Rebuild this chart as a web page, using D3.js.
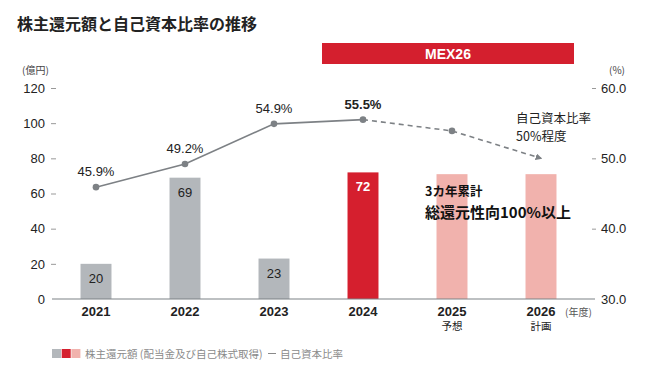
<!DOCTYPE html>
<html><head><meta charset="utf-8">
<script src="https://cdn.jsdelivr.net/npm/d3@7"></script>
<style>
html,body{margin:0;padding:0;background:#fff;}
svg{display:block;font-family:"Noto Sans CJK JP","Liberation Sans",Arial,sans-serif;}
</style></head>
<body>
<svg id="chart" width="650" height="380"></svg>
<script>
const years = ["2021","2022","2023","2024","2025","2026"];
const yearSub = ["","","","","予想","計画"];
const returns = [20, 69, 23, 72, 71, 71];
const returnLabels = ["20","69","23","72","",""];
const barKinds = ["actual","actual","actual","current","plan","plan"];
const equityRatio = [45.9, 49.2, 54.9, 55.5, 53.9, 50.0];
const ratioLabels = ["45.9%","49.2%","54.9%","55.5%","",""];
const leftTicks = [0, 20, 40, 60, 80, 100, 120];
const rightTicks = [30, 40, 50, 60];

const colors = {actual:"#b3b7bb", current:"#d51f2e", plan:"#f1b2ad"};
const lineColor = "#7d8185";
const svg = d3.select("#chart");
const fontJP = '"Noto Sans CJK JP", sans-serif';
const fontNum = '"Liberation Sans", Arial, sans-serif';

const x = d3.scaleBand().domain(years).range([51.5, 585.5]).paddingInner(0.652).paddingOuter(0.326);
const y = d3.scaleLinear().domain([0, 120]).range([299, 88]);
const y2 = d3.scaleLinear().domain([30, 60]).range([299, 88]);
const cx = d => x(d) + x.bandwidth()/2;

// title
svg.append("text").attr("x", 17).attr("y", 30).attr("font-family", fontJP)
  .attr("font-size", 16).attr("font-weight", "bold").attr("fill", "#222")
  .text("株主還元額と自己資本比率の推移");

// MEX26 banner
const bx0 = cx("2024") - x.bandwidth()/2 - 26, bx1 = 574;
svg.append("rect").attr("x", 322).attr("y", 43).attr("width", bx1 - 322).attr("height", 21).attr("fill", "#d41f2e");
svg.append("text").attr("x", (322 + bx1)/2).attr("y", 58.5).attr("text-anchor", "middle")
  .attr("font-family", fontNum).attr("font-weight", "bold").attr("font-size", 14).attr("fill", "#fff").text("MEX26");

// unit labels
svg.append("text").attr("x", 22).attr("y", 74).attr("font-family", fontJP).attr("font-size", 10).attr("fill", "#444").text("(億円)");
svg.append("text").attr("x", 609).attr("y", 74).attr("font-family", fontJP).attr("font-size", 10).attr("fill", "#444").text("(%)");

// left axis
const gl = svg.append("g").attr("transform", "translate(56,0)")
  .call(d3.axisLeft(y).tickValues(leftTicks).tickSize(5).tickPadding(6).tickFormat(d3.format("d")));
gl.select(".domain").remove();
gl.selectAll(".tick line").attr("stroke", "#999");
gl.selectAll(".tick text").attr("font-family", fontNum).attr("font-size", 13).attr("fill", "#222");
gl.selectAll(".tick").filter(d => d === 0).select("line").remove();

// right axis
const gr = svg.append("g").attr("transform", "translate(592,0)")
  .call(d3.axisRight(y2).tickValues(rightTicks).tickSize(4).tickPadding(5).tickFormat(d3.format(".1f")));
gr.select(".domain").remove();
gr.selectAll(".tick line").attr("stroke", "#999");
gr.selectAll(".tick").filter(d => d === 30).select("line").remove();
gr.selectAll(".tick text").attr("font-family", fontNum).attr("font-size", 13).attr("fill", "#222").attr("x", 9);

// bars
svg.append("g").selectAll("rect").data(years).join("rect")
  .attr("x", d => x(d)).attr("width", x.bandwidth())
  .attr("y", (d,i) => y(returns[i])).attr("height", (d,i) => y(0) - y(returns[i]))
  .attr("fill", (d,i) => colors[barKinds[i]]);

// baseline
svg.append("line").attr("x1", 52).attr("x2", 595).attr("y1", y(0)).attr("y2", y(0)).attr("stroke", "#7d8185").attr("stroke-width", 1.2);

// bar labels
svg.append("g").selectAll("text").data(years).join("text")
  .attr("x", d => cx(d)).attr("y", (d,i) => y(returns[i]) + 19)
  .attr("text-anchor", "middle").attr("font-family", fontNum).attr("font-size", 13)
  .attr("font-weight", (d,i) => barKinds[i] === "current" ? "bold" : "normal")
  .attr("fill", (d,i) => barKinds[i] === "current" ? "#fff" : "#222")
  .text((d,i) => returnLabels[i]);

// year labels
svg.append("g").selectAll("text").data(years).join("text")
  .attr("x", d => cx(d)).attr("y", 316).attr("text-anchor", "middle")
  .attr("font-family", fontNum).attr("font-size", 13).attr("font-weight", "bold").attr("fill", "#222").text(d => d);
svg.append("g").selectAll("text").data(years).join("text")
  .attr("x", d => cx(d)).attr("y", 330).attr("text-anchor", "middle")
  .attr("font-family", fontJP).attr("font-size", 10.5).attr("fill", "#222").text((d,i) => yearSub[i]);
svg.append("text").attr("x", 565).attr("y", 316).attr("font-family", fontJP).attr("font-size", 10).attr("fill", "#555").text("(年度)");

// arrow marker
svg.append("defs").append("marker").attr("id", "arrow").attr("viewBox", "0 0 10 10")
  .attr("refX", 8).attr("refY", 5).attr("markerWidth", 4.2).attr("markerHeight", 4.2)
  .attr("orient", "auto").attr("markerUnits", "strokeWidth")
  .append("path").attr("d", "M0,0 L10,5 L0,10 Z").attr("fill", lineColor);

// line
const pts = years.map((d,i) => [cx(d), y2(equityRatio[i])]);
const line = d3.line();
svg.append("path").attr("d", line(pts.slice(0,4))).attr("fill", "none").attr("stroke", lineColor).attr("stroke-width", 1.6);
svg.append("path").attr("d", line(pts.slice(3))).attr("fill", "none").attr("stroke", lineColor)
  .attr("stroke-width", 1.6).attr("stroke-dasharray", "5,4").attr("marker-end", "url(#arrow)");
svg.append("g").selectAll("circle").data(pts.slice(0,5)).join("circle")
  .attr("cx", d => d[0]).attr("cy", d => d[1]).attr("r", 3.3).attr("fill", lineColor);

// ratio labels
svg.append("g").selectAll("text").data(years).join("text")
  .attr("x", d => cx(d)).attr("y", (d,i) => y2(equityRatio[i]) - 11)
  .attr("text-anchor", "middle").attr("font-family", fontNum).attr("font-size", 13)
  .attr("font-weight", (d,i) => i === 3 ? "bold" : "normal").attr("fill", "#222")
  .text((d,i) => ratioLabels[i]);

// annotations
svg.append("text").attr("x", 516).attr("y", 123).attr("font-family", fontJP).attr("font-size", 12.5).attr("fill", "#222").text("自己資本比率");
svg.append("text").attr("x", 516).attr("y", 141).attr("font-family", fontJP).attr("font-size", 12.5).attr("fill", "#222").text("50%程度");
svg.append("text").attr("x", 425).attr("y", 196).attr("font-family", fontJP).attr("font-size", 12.5).attr("font-weight", "bold").attr("fill", "#111").text("3カ年累計");
svg.append("text").attr("x", 425).attr("y", 218).attr("font-family", fontJP).attr("font-size", 15).attr("font-weight", "bold").attr("fill", "#111").text("総還元性向100%以上");

// legend
const lg = svg.append("g");
["actual","current","plan"].forEach((k,i) => {
  lg.append("rect").attr("x", 52 + i*9.7).attr("y", 349).attr("width", 9).attr("height", 9).attr("fill", colors[k]);
});
lg.append("text").attr("x", 85).attr("y", 357.5).attr("font-family", fontJP).attr("font-size", 10.5).attr("fill", "#8a8a8a").text("株主還元額 (配当金及び自己株式取得)");
lg.append("line").attr("x1", 268).attr("x2", 276).attr("y1", 353.5).attr("y2", 353.5).attr("stroke", "#8a8a8a").attr("stroke-width", 1);
lg.append("text").attr("x", 280).attr("y", 357.5).attr("font-family", fontJP).attr("font-size", 10.5).attr("fill", "#8a8a8a").text("自己資本比率");
</script>
</body></html>
